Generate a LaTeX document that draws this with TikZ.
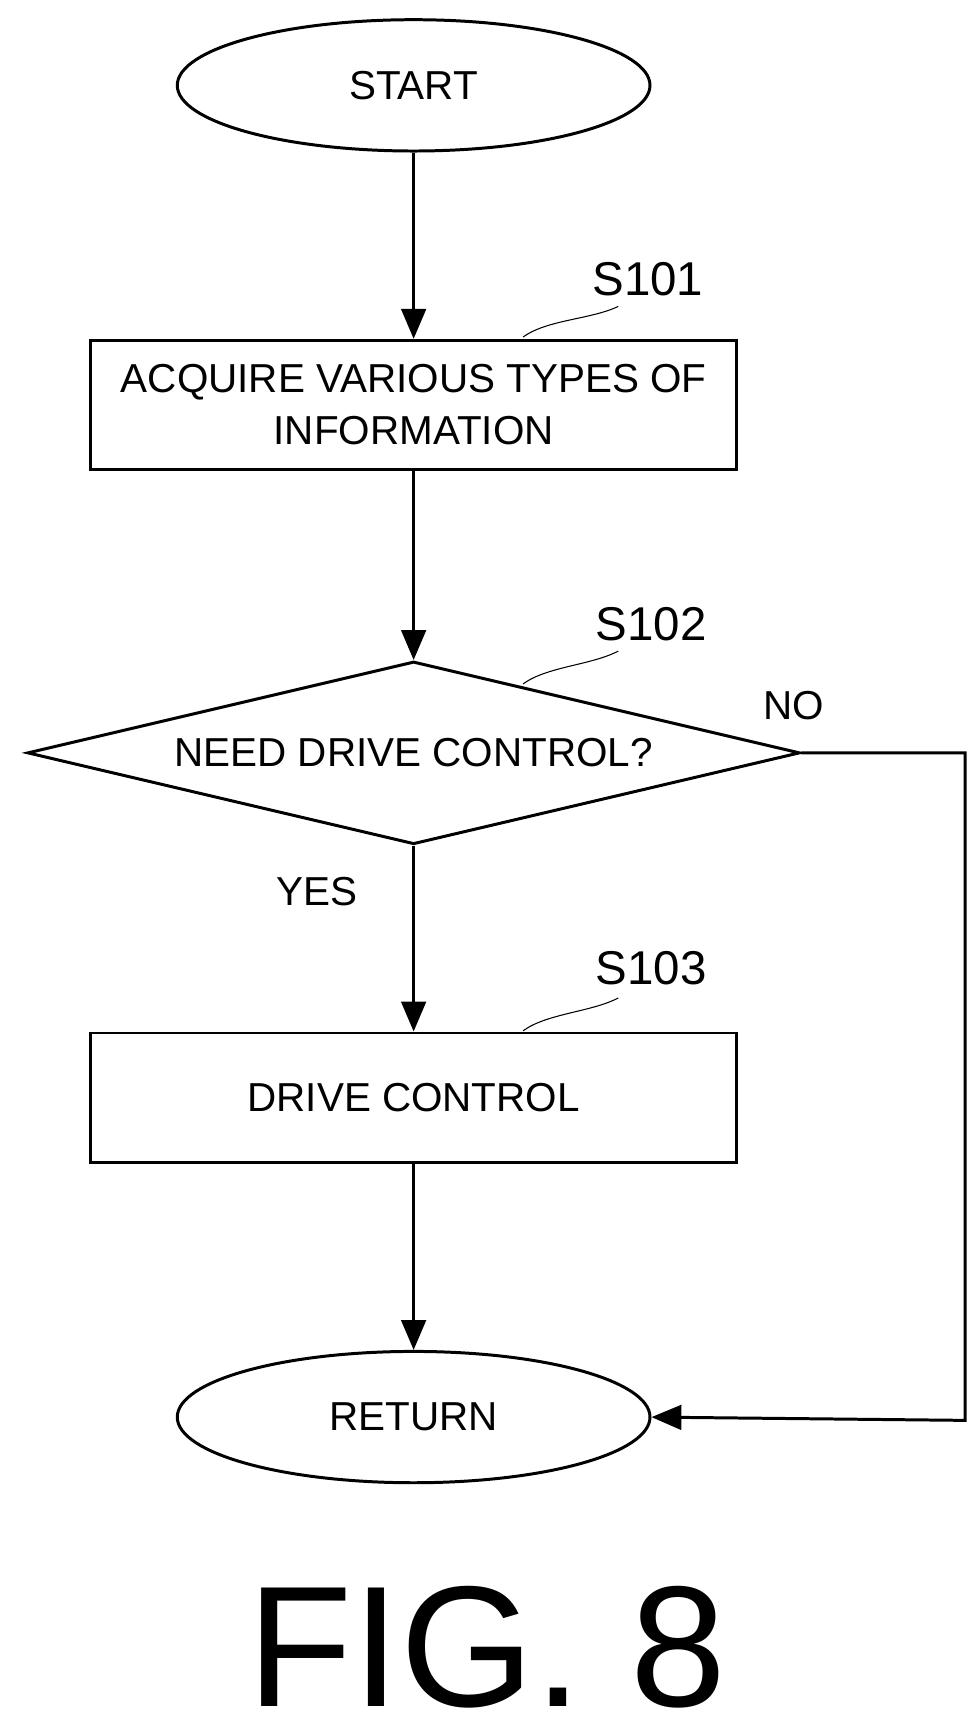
\documentclass[tikz,border=0pt]{standalone}
\usepackage{fontspec}
\setmainfont{Liberation Sans}
\usetikzlibrary{shapes.geometric,arrows.meta}
\begin{document}
\begin{tikzpicture}
[x=0.02188cm,y=-0.02188cm,line width=1.7pt,%
  every node/.style={font=\fontsize{23}{29.5}\selectfont},%
  term/.style={draw,ellipse,minimum width=432*0.02188cm,minimum height=120*0.02188cm},%
  proc/.style={draw,rectangle,minimum width=590*0.02188cm,minimum height=118*0.02188cm,align=center},%
  test/.style={draw,diamond,aspect=4.23,minimum width=706*0.02188cm,minimum height=167*0.02188cm,inner sep=0pt},%
  flow/.style={-{Triangle[length=17pt,width=14pt]}},%
  tag/.style={font=\fontsize{27}{32}\selectfont},%
  leader/.style={line width=0.6pt}]
\useasboundingbox (0,0) rectangle (890,1570);
% nodes
\node[term] (start) at (378,78) {START};
\node[proc] (acq) at (378,370) {ACQUIRE VARIOUS TYPES OF\\INFORMATION};
\node[test] (need) at (378,688) {NEED DRIVE CONTROL?};
\node[proc] (drv) at (378,1003) {DRIVE CONTROL};
\node[term] (ret) at (378,1295) {RETURN};
\coordinate (c1) at (882,688);
\coordinate (c2) at (882,1298);
% step tags
\node[tag] (s1) at (592,255) {S101};
\node[tag] (s2) at (595,570) {S102};
\node[tag] (s3) at (595,885) {S103};
\draw[leader] (478,308) .. controls (500,292) and (540,292) .. (565,280);
\draw[leader] (478,625) .. controls (500,609) and (540,608) .. (565,595);
\draw[leader] (478,942) .. controls (500,926) and (540,925) .. (565,912);
% labels
\node (no) at (725,645) {NO};
\node (yes) at (290,815) {YES};
% connectors
\draw[flow] (start) -- (acq);
\draw[flow] (acq) -- (need);
\draw[flow] (need) -- (drv);
\draw[flow] (drv) -- (ret);
\draw[flow] (need.east) -- (c1) -- (c2) -- (ret.east);
\node[font=\fontsize{98}{110}\selectfont] (fig) at (445,1505) {FIG. 8};
\end{tikzpicture}
\end{document}
